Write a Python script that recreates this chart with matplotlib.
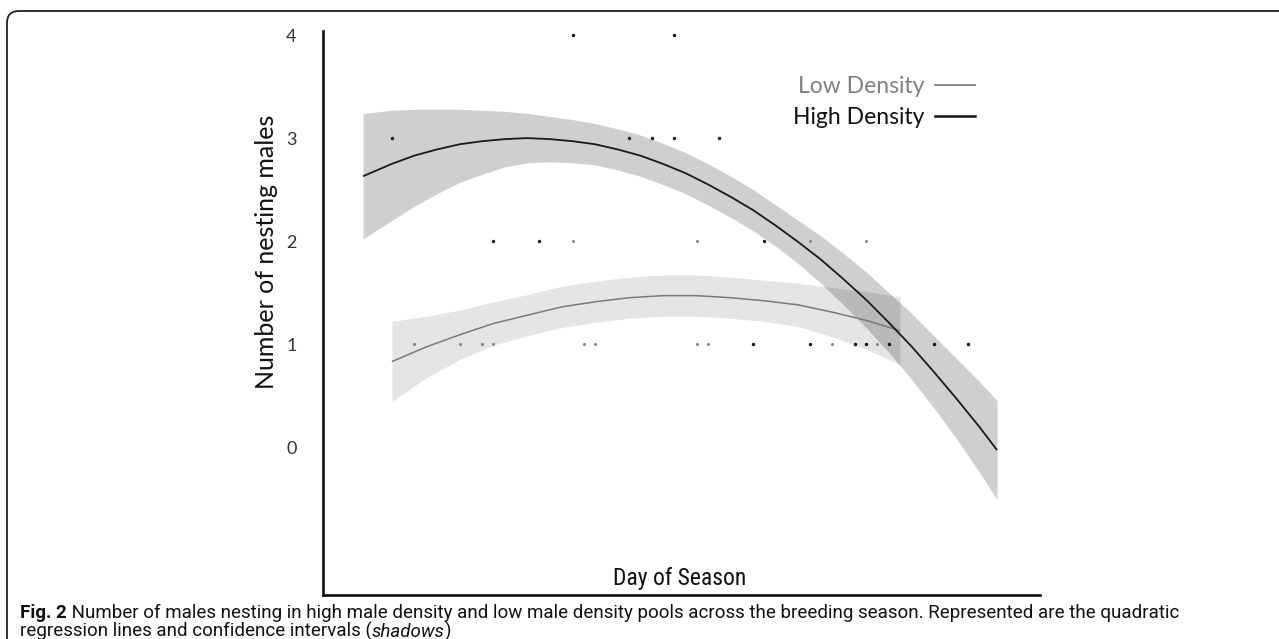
import matplotlib
matplotlib.use("Agg")
import matplotlib.pyplot as plt
from matplotlib.patches import FancyBboxPatch
from matplotlib.transforms import IdentityTransform
from matplotlib import font_manager

# ---------------- data ----------------
# scatter observations: day of season, number of nesting males
high_x = [22, 31, 6, 27, 29, 31, 35, 15, 19, 39, 38, 43, 47, 48, 50, 54, 57]
high_y = [4, 4, 3, 3, 3, 3, 3, 2, 2, 2, 1, 1, 1, 1, 1, 1, 1]
low_x = [22, 33, 43, 48, 8, 12, 14, 15, 23, 24, 33, 34, 45, 49]
low_y = [2, 2, 2, 2, 1, 1, 1, 1, 1, 1, 1, 1, 1, 1]

# high density quadratic regression line with confidence band
high_fit_x = [3.45, 6, 8, 10, 12, 14, 16, 18, 20, 22, 24, 26, 28, 30, 32, 34, 36, 38,
              40, 42, 44, 46, 48, 50, 52, 54, 56, 58, 59.6]
high_fit_y = [2.63, 2.75, 2.83, 2.89, 2.94, 2.97, 2.99, 3.00, 2.99, 2.97, 2.94, 2.89,
              2.83, 2.75, 2.66, 2.55, 2.43, 2.30, 2.15, 1.99, 1.82, 1.63, 1.43, 1.21,
              0.98, 0.73, 0.47, 0.20, -0.03]
high_upper = [3.24, 3.27, 3.28, 3.28, 3.28, 3.27, 3.26, 3.24, 3.21, 3.18, 3.14, 3.09,
              3.03, 2.95, 2.86, 2.75, 2.63, 2.50, 2.35, 2.20, 2.05, 1.88, 1.70, 1.50,
              1.30, 1.08, 0.86, 0.64, 0.45]
high_lower = [2.02, 2.20, 2.34, 2.46, 2.57, 2.65, 2.72, 2.76, 2.77, 2.76, 2.74, 2.69,
              2.63, 2.55, 2.46, 2.35, 2.23, 2.10, 1.95, 1.78, 1.59, 1.38, 1.16, 0.92,
              0.66, 0.38, 0.08, -0.24, -0.51]

# low density quadratic regression line with confidence band
low_fit_x = [6, 9, 12, 15, 18, 21, 24, 27, 30, 33, 36, 39, 42, 45, 48, 51]
low_fit_y = [0.83, 0.97, 1.09, 1.20, 1.28, 1.36, 1.41, 1.45, 1.47, 1.47, 1.45, 1.42,
             1.38, 1.31, 1.23, 1.13]
low_upper = [1.22, 1.27, 1.33, 1.41, 1.48, 1.56, 1.61, 1.65, 1.67, 1.67, 1.65, 1.62,
             1.59, 1.55, 1.51, 1.46]
low_lower = [0.44, 0.67, 0.85, 0.99, 1.08, 1.16, 1.21, 1.25, 1.27, 1.27, 1.25, 1.22,
             1.17, 1.07, 0.95, 0.80]

y_ticks = [0, 1, 2, 3, 4]
legend_labels = ["Low Density", "High Density"]
x_label = "Day of Season"
y_label = "Number of nesting males"
caption_bold = "Fig. 2"
caption_1 = (" Number of males nesting in high male density and low male density pools "
             "across the breeding season. Represented are the quadratic")
caption_2a = "regression lines and confidence intervals ("
caption_2b = "shadows"
caption_2c = ")"

# ---------------- fonts ----------------
entries = font_manager.fontManager.ttflist
names = {f.name for f in entries}
chart_font = next((f for f in ["Lato", "Open Sans", "Noto Sans"] if f in names), "DejaVu Sans")
label_font = next((f for f in ["Roboto Condensed", "Liberation Sans Narrow"] if f in names),
                  chart_font)
cap_font = next((f for f in ["Roboto", "Lato", "Noto Sans"] if f in names), "DejaVu Sans")

# ---------------- figure ----------------
W, H = 1279, 639
fig = plt.figure(figsize=(W / 100, H / 100), dpi=100)
fig.patch.set_facecolor("white")

ax = fig.add_axes([323 / W, 1 - 595 / H, (1040 - 323) / W, (595 - 31) / H])
ax.set_xlim(-0.1, 63.4)
ax.set_ylim(-1.437, 4.04)

# confidence bands
ax.fill_between(high_fit_x, high_lower, high_upper, color="black", alpha=0.19, lw=0, zorder=1)
ax.fill_between(low_fit_x, low_lower, low_upper, color="black", alpha=0.10, lw=0, zorder=1)

# points
ax.scatter(low_x, low_y, s=5, color="#8a8a8a", lw=0, zorder=3)
ax.scatter(high_x, high_y, s=6, color="#111111", lw=0, zorder=3)

# regression lines
ax.plot(low_fit_x, low_fit_y, color="#7a7a7a", lw=1.1, zorder=4, solid_capstyle="butt")
ax.plot(high_fit_x, high_fit_y, color="#1a1a1a", lw=1.3, zorder=5, solid_capstyle="butt")

# axes styling
for s in ["top", "right"]:
    ax.spines[s].set_visible(False)
for s in ["left", "bottom"]:
    ax.spines[s].set_linewidth(1.9)
    ax.spines[s].set_color("#111111")
ax.set_xticks([])
ax.set_yticks(y_ticks)
ax.set_yticklabels([str(t) for t in y_ticks], fontsize=13, color="#333333", family=chart_font)
ax.tick_params(axis="y", length=0, pad=19)
ax.patch.set_alpha(0)

# legend
h_low, = ax.plot([], [], color="#8a8a8a", lw=1.4)
h_high, = ax.plot([], [], color="#111111", lw=1.8)
ax.legend([h_low, h_high], legend_labels, frameon=False, markerfirst=False,
          loc="upper left", bbox_to_anchor=((793 - 323) / 717, (595 - 76) / 564),
          prop={"family": chart_font, "size": 16.5}, handlelength=1.75,
          handletextpad=0.45, labelspacing=0.42, borderpad=0, borderaxespad=0,
          labelcolor=["#808080", "#111111"])

# axis labels
fig.text(266 / W, 1 - 252 / H, y_label, rotation=90, ha="center", va="center",
         fontsize=18, family=chart_font, color="#111111")
xl = fig.text(680 / W, 1 - 578 / H, x_label, ha="center", va="center",
              fontsize=16, family=label_font, color="#111111")

fig.canvas.draw()
r = fig.canvas.get_renderer()
w = xl.get_window_extent(r).width
xl.set_fontsize(max(12, min(17, 16 * 136 / w)))

# caption (positions in pixels from the bottom-left corner, baseline aligned)
base1 = H - 618
base2 = H - 637
idt = IdentityTransform()
t0 = fig.text(20, base1, caption_bold, fontsize=12, family=cap_font, weight="bold",
              color="#111111", ha="left", va="baseline", transform=idt)
t1 = fig.text(0, base1, caption_1, fontsize=12, family=cap_font, color="#111111",
              ha="left", va="baseline", transform=idt)
fig.canvas.draw()
total = t0.get_window_extent(r).width + t1.get_window_extent(r).width
cap_size = max(10.5, min(13.5, 12 * 1177 / total))
t0.set_fontsize(cap_size)
t1.set_fontsize(cap_size)
fig.canvas.draw()
t1.set_position((t0.get_window_extent(r).x1, base1))

t2 = fig.text(20, base2, caption_2a, fontsize=cap_size, family=cap_font,
              color="#111111", ha="left", va="baseline", transform=idt)
fig.canvas.draw()
t3 = fig.text(t2.get_window_extent(r).x1, base2, caption_2b, fontsize=cap_size,
              family=cap_font, style="italic", color="#111111", ha="left",
              va="baseline", transform=idt)
fig.canvas.draw()
fig.text(t3.get_window_extent(r).x1, base2, caption_2c, fontsize=cap_size,
         family=cap_font, color="#111111", ha="left", va="baseline", transform=idt)

# rounded frame (runs off the right and bottom edges)
frame = FancyBboxPatch((7, -40), W + 60, H - 11 + 40,
                       boxstyle="round,pad=0,rounding_size=12",
                       transform=idt, fill=False, edgecolor="#222222", lw=1.3)
fig.patches.append(frame)

fig.savefig("out.png", dpi=100)
